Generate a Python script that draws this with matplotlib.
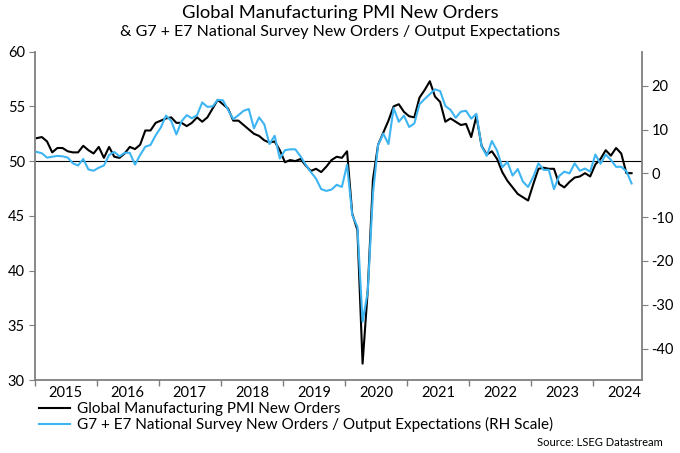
import numpy as np
import matplotlib
matplotlib.use("Agg")
import matplotlib.pyplot as plt
from matplotlib.ticker import FixedLocator, NullFormatter

plt.rcParams['font.family'] = ['Lato', 'DejaVu Sans']
plt.rcParams['axes.unicode_minus'] = False

# monthly data, Jan 2015 - Aug 2024
pmi_new_orders = [
    52.1, 52.2, 51.8, 50.8, 51.2, 51.2, 50.9, 50.8, 50.8, 51.4, 51.0, 50.7,  # 2015
    51.3, 50.3, 51.3, 50.4, 50.3, 50.7, 51.3, 51.1, 51.5, 52.8, 52.8, 53.5,  # 2016
    53.7, 53.9, 54.0, 53.5, 53.5, 53.2, 53.5, 54.0, 53.6, 54.0, 54.8, 55.6,  # 2017
    55.2, 54.8, 53.7, 53.7, 53.3, 52.9, 52.5, 52.3, 51.9, 51.7, 51.8, 51.0,  # 2018
    49.9, 50.1, 50.0, 50.2, 49.6, 49.1, 49.3, 49.0, 49.5, 50.1, 50.4, 50.3,  # 2019
    50.9, 45.2, 43.7, 31.5, 38.2, 48.3, 51.5, 52.6, 53.7, 55.0, 55.2, 54.5,  # 2020
    54.1, 54.0, 55.8, 56.5, 57.3, 55.9, 55.4, 53.6, 53.9, 53.6, 53.3, 53.4,  # 2021
    52.2, 54.1, 51.4, 50.6, 50.9, 50.2, 49.0, 48.2, 47.6, 47.0, 46.7, 46.4,  # 2022
    47.9, 49.3, 49.4, 49.3, 49.3, 47.9, 47.6, 48.1, 48.5, 48.6, 48.9, 48.6,  # 2023
    49.7, 50.2, 51.0, 50.5, 51.2, 50.7, 48.9, 48.9,                          # 2024
]
survey_orders = [
    4.9, 4.6, 3.6, 3.8, 4.0, 3.9, 3.6, 2.3, 1.8, 3.3, 0.9, 0.6,
    1.3, 1.8, 4.2, 4.9, 3.9, 4.7, 4.7, 2.0, 4.2, 6.1, 6.5, 8.7,
    10.5, 13.2, 12.0, 8.9, 11.9, 13.3, 12.6, 13.3, 16.2, 15.2, 15.3, 16.8,
    16.7, 14.5, 12.4, 13.3, 14.3, 14.7, 10.3, 12.8, 11.2, 6.7, 8.6, 3.4,
    5.3, 5.5, 5.5, 3.9, 2.0, 0.3, -1.2, -3.6, -4.0, -3.7, -2.6, -3.1,
    2.0, -9.5, -12.2, -33.9, -27.0, -4.6, 6.5, 9.1, 6.7, 14.9, 11.8, 13.2,
    10.6, 11.4, 15.8, 17.0, 18.1, 19.2, 18.8, 15.4, 14.5, 12.7, 14.1, 14.3,
    12.5, 13.6, 6.2, 4.0, 7.4, 5.2, 1.4, 2.6, -0.5, 1.0, -1.9, -3.1,
    -0.8, 2.3, 0.8, 0.8, -3.6, -0.6, 0.4, 0.0, 2.3, 0.6, 1.1, 0.4,
    4.3, 2.2, 4.3, 3.1, 1.5, 1.5, 0.5, -2.3,
]
years = list(range(2015, 2025))
start_year = 2015

t = start_year + (np.arange(len(pmi_new_orders)) + 0.4) / 12.0

axis_grey = '#7f7f7f'
blue = '#3db5f2'

fig = plt.figure(figsize=(6.8, 4.53), dpi=100)
ax = fig.add_axes([0.0509, 0.1611, 0.8928, 0.7248])
ax2 = ax.twinx()

l1, = ax.plot(t, pmi_new_orders, color='black', lw=1.5,
              label='Global Manufacturing PMI New Orders')
l2, = ax2.plot(t, survey_orders, color=blue, lw=1.5,
               label='G7 + E7 National Survey New Orders / Output Expectations (RH Scale)')
ax.axhline(50, color='black', lw=0.8, zorder=1)

ax.set_xlim(2015.0, 2024.78)
ax.set_ylim(30, 60)
ax2.set_ylim(-47.2, 27.8)
ax.set_yticks(range(30, 61, 5))
ax2.set_yticks(range(-40, 21, 10))

ax.xaxis.set_major_locator(FixedLocator(years))
ax.xaxis.set_major_formatter(NullFormatter())
ax.xaxis.set_minor_locator(FixedLocator([y + 0.5 for y in years]))
ax.set_xticklabels([str(y) for y in years], minor=True)
ax.tick_params(axis='x', which='minor', length=0, pad=4, labelsize=10.5)
ax.tick_params(axis='x', which='major', length=4, color=axis_grey, width=1)
ax.tick_params(axis='y', length=4, color=axis_grey, labelsize=10.5, pad=3)
ax2.tick_params(axis='y', length=4, color=axis_grey, labelsize=10.5, pad=3)

for a in (ax, ax2):
    a.spines['top'].set_visible(False)
    for s in ('left', 'right', 'bottom'):
        a.spines[s].set_color(axis_grey)
        a.spines[s].set_linewidth(1.3)
ax.spines['right'].set_visible(False)
ax2.spines['left'].set_visible(False)
ax2.spines['bottom'].set_visible(False)

fig.text(0.5, 0.972, 'Global Manufacturing PMI New Orders', ha='center', va='center',
         fontsize=13.2)
fig.text(0.5, 0.929, '& G7 + E7 National Survey New Orders / Output Expectations',
         ha='center', va='center', fontsize=11.5)

fig.legend(handles=[l1, l2], loc='upper left', bbox_to_anchor=(0.058, 0.112),
           frameon=False, fontsize=11, handlelength=2.0, handletextpad=0.45,
           labelspacing=0.05, borderaxespad=0, borderpad=0)
fig.text(0.975, 0.024, 'Source: LSEG Datastream', ha='right', va='center', fontsize=8)

fig.savefig('out.png', dpi=100)
